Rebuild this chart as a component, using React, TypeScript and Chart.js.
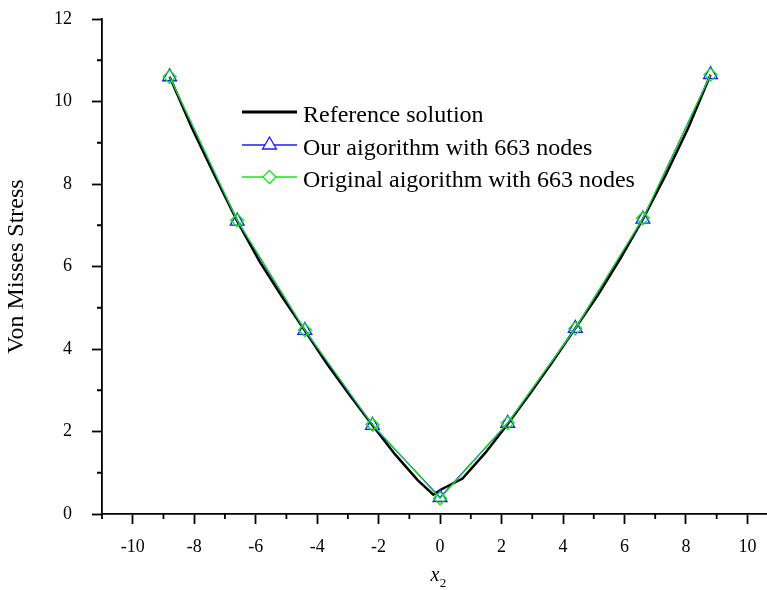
import React, { useEffect, useRef } from 'react';
import { Chart, registerables } from 'chart.js';
import { drawPoint } from 'chart.js/helpers';

Chart.register(...registerables);

// Reference solution sampled along x2
const refX = [-8.8, -8.07, -7.33, -6.6, -5.87, -5.13, -4.4, -3.67, -2.93, -2.2, -1.47, -0.73, -0.22, 0.05, 0.73, 1.47, 2.2, 2.93, 3.67, 4.4, 5.13, 5.87, 6.6, 7.33, 8.07, 8.8];
const refY = [10.6, 9.35, 8.2, 7.1, 6.12, 5.25, 4.45, 3.63, 2.87, 2.15, 1.45, 0.82, 0.47, 0.6, 0.86, 1.48, 2.18, 2.92, 3.7, 4.5, 5.3, 6.2, 7.15, 8.2, 9.35, 10.65];

// Node positions and stress values of the two algorithms
const nodeX = [-8.8, -6.6, -4.4, -2.2, 0, 2.2, 4.4, 6.6, 8.8];
const ourY = [10.6, 7.1, 4.45, 2.15, 0.4, 2.2, 4.5, 7.15, 10.65];
const origY = [10.6, 7.12, 4.46, 2.17, 0.38, 2.21, 4.5, 7.17, 10.65];

const xMajorTicks = [-10, -8, -6, -4, -2, 0, 2, 4, 6, 8, 10];
const xMinorTicks = [-11, -9, -7, -5, -3, -1, 1, 3, 5, 7, 9];
const yMajorTicks = [0, 2, 4, 6, 8, 10, 12];
const yMinorTicks = [1, 3, 5, 7, 9, 11];

const legendLabels = ['Reference solution', 'Our aigorithm with 663 nodes', 'Original aigorithm with 663 nodes'];
const yTitle = 'Von Misses Stress';
const xTitleMain = 'x';
const xTitleSub = '2';

const SERIF = '"Liberation Serif", "Times New Roman", serif';
const BLACK = '#000000';
const BLUE = '#1a1aff';
const GREEN = '#12e812';

// The plot runs off the right edge of the 767px frame, so the canvas is a bit wider
const CANVAS_W = 777;
const CANVAS_H = 590;

const toPoints = (xs: number[], ys: number[]) => xs.map((x, i) => ({ x, y: ys[i] }));

// Short minor tick marks on both axes
const minorTicksPlugin = {
  id: 'minorTicks',
  afterDraw(chart: any) {
    const { ctx, chartArea, scales } = chart;
    ctx.save();
    ctx.strokeStyle = BLACK;
    ctx.lineWidth = 1.8;
    ctx.beginPath();
    xMinorTicks.forEach((v) => {
      const px = scales.x.getPixelForValue(v);
      if (px < chartArea.left - 0.5 || px > chartArea.right) return;
      ctx.moveTo(px, chartArea.bottom);
      ctx.lineTo(px, chartArea.bottom + 5);
    });
    yMinorTicks.forEach((v) => {
      const py = scales.y.getPixelForValue(v);
      ctx.moveTo(chartArea.left, py);
      ctx.lineTo(chartArea.left - 5, py);
    });
    ctx.stroke();
    ctx.restore();
  },
};

// x2 axis title with an italic x and a subscript 2
const xTitlePlugin = {
  id: 'xTitle',
  afterDraw(chart: any) {
    const { ctx, chartArea, scales } = chart;
    const cx = scales.x.getPixelForValue(0) - 2;
    const base = chartArea.bottom + 67;
    ctx.save();
    ctx.fillStyle = BLACK;
    ctx.textBaseline = 'alphabetic';
    ctx.textAlign = 'left';
    ctx.font = `italic 20px ${SERIF}`;
    const w = ctx.measureText(xTitleMain).width;
    ctx.font = `13px ${SERIF}`;
    const ws = ctx.measureText(xTitleSub).width;
    const start = cx - (w + ws) / 2;
    ctx.font = `italic 20px ${SERIF}`;
    ctx.fillText(xTitleMain, start, base);
    ctx.font = `13px ${SERIF}`;
    ctx.fillText(xTitleSub, start + w + 0.5, base + 6);
    ctx.restore();
  },
};

// Legend drawn inside the plot area
const innerLegendPlugin = {
  id: 'innerLegend',
  afterDraw(chart: any) {
    const { ctx } = chart;
    const rows = [112, 145, 177];
    const x0 = 242;
    const x1 = 297;
    const xm = (x0 + x1) / 2;
    const tx = 303;
    ctx.save();
    ctx.lineCap = 'butt';
    // reference line
    ctx.strokeStyle = BLACK;
    ctx.lineWidth = 3;
    ctx.beginPath();
    ctx.moveTo(x0, rows[0]);
    ctx.lineTo(x1, rows[0]);
    ctx.stroke();
    // our algorithm
    ctx.strokeStyle = BLUE;
    ctx.lineWidth = 1.3;
    ctx.beginPath();
    ctx.moveTo(x0, rows[1]);
    ctx.lineTo(x1, rows[1]);
    ctx.stroke();
    ctx.fillStyle = '#ffffff';
    drawPoint(ctx, { pointStyle: 'triangle', radius: 8, borderWidth: 1.3, rotation: 0 } as any, xm, rows[1]);
    // original algorithm
    ctx.strokeStyle = GREEN;
    ctx.beginPath();
    ctx.moveTo(x0, rows[2]);
    ctx.lineTo(x1, rows[2]);
    ctx.stroke();
    ctx.fillStyle = '#ffffff';
    drawPoint(ctx, { pointStyle: 'rectRot', radius: 6.5, borderWidth: 1.3, rotation: 0 } as any, xm, rows[2]);
    // labels
    ctx.fillStyle = BLACK;
    ctx.font = `24px ${SERIF}`;
    ctx.textAlign = 'left';
    ctx.textBaseline = 'alphabetic';
    legendLabels.forEach((t, i) => ctx.fillText(t, tx, rows[i] + 10));
    ctx.restore();
  },
};

export default function App() {
  const canvasRef = useRef<HTMLCanvasElement | null>(null);

  useEffect(() => {
    if (!canvasRef.current) return;
    const chart = new Chart(canvasRef.current, {
      type: 'scatter',
      data: {
        datasets: [
          {
            label: legendLabels[0],
            data: toPoints(refX, refY),
            showLine: true,
            borderColor: BLACK,
            borderWidth: 2.5,
            pointRadius: 0,
            tension: 0,
            order: 3,
            clip: false as any,
          },
          {
            label: legendLabels[1],
            data: toPoints(nodeX, ourY),
            showLine: true,
            borderColor: BLUE,
            borderWidth: 1.2,
            pointStyle: 'triangle',
            pointRadius: 8,
            pointBorderWidth: 1.3,
            pointBorderColor: BLUE,
            pointBackgroundColor: 'rgba(0,0,0,0)',
            tension: 0,
            order: 2,
            clip: false as any,
          },
          {
            label: legendLabels[2],
            data: toPoints(nodeX, origY),
            showLine: true,
            borderColor: GREEN,
            borderWidth: 1.2,
            pointStyle: 'rectRot',
            pointRadius: 6.5,
            pointBorderWidth: 1.3,
            pointBorderColor: GREEN,
            pointBackgroundColor: 'rgba(0,0,0,0)',
            tension: 0,
            order: 1,
            clip: false as any,
          },
        ],
      },
      options: {
        animation: false,
        responsive: false,
        devicePixelRatio: 1,
        layout: { padding: { top: 19, left: 0, right: 0, bottom: 0 } },
        plugins: {
          legend: { display: false },
          tooltip: { enabled: false },
        },
        scales: {
          x: {
            type: 'linear',
            min: -11,
            max: 10.66,
            afterBuildTicks: (s: any) => {
              s.ticks = xMajorTicks.map((value) => ({ value }));
            },
            afterFit: (s: any) => {
              s.height = 76;
              s.paddingLeft = 0;
              s.paddingRight = 0;
            },
            grid: {
              display: true,
              drawOnChartArea: false,
              drawTicks: true,
              tickLength: 10,
              tickWidth: 1.8,
              tickColor: BLACK,
              color: BLACK,
            },
            border: { display: true, color: BLACK, width: 1.8 },
            ticks: {
              color: BLACK,
              font: { family: SERIF, size: 18 },
              padding: 12,
              maxRotation: 0,
              autoSkip: false,
            },
          },
          y: {
            type: 'linear',
            min: 0,
            max: 12,
            afterBuildTicks: (s: any) => {
              s.ticks = yMajorTicks.map((value) => ({ value }));
            },
            afterFit: (s: any) => {
              s.width = 102;
              s.paddingTop = 0;
              s.paddingBottom = 0;
            },
            grid: {
              display: true,
              drawOnChartArea: false,
              drawTicks: true,
              tickLength: 10,
              tickWidth: 1.8,
              tickColor: BLACK,
              color: BLACK,
            },
            border: { display: true, color: BLACK, width: 1.8 },
            ticks: {
              color: BLACK,
              font: { family: SERIF, size: 18 },
              padding: 20,
              autoSkip: false,
            },
            title: {
              display: true,
              text: yTitle,
              color: BLACK,
              font: { family: SERIF, size: 24 },
              padding: { top: 2, bottom: 0 },
            },
          },
        },
      },
      plugins: [minorTicksPlugin, xTitlePlugin, innerLegendPlugin],
    });
    return () => chart.destroy();
  }, []);

  return (
    <div style={{ position: 'fixed', left: 0, top: 0, width: 767, height: CANVAS_H, background: '#ffffff', overflow: 'hidden' }}>
      <canvas ref={canvasRef} width={CANVAS_W} height={CANVAS_H} style={{ display: 'block', width: CANVAS_W, height: CANVAS_H }} />
    </div>
  );
}
